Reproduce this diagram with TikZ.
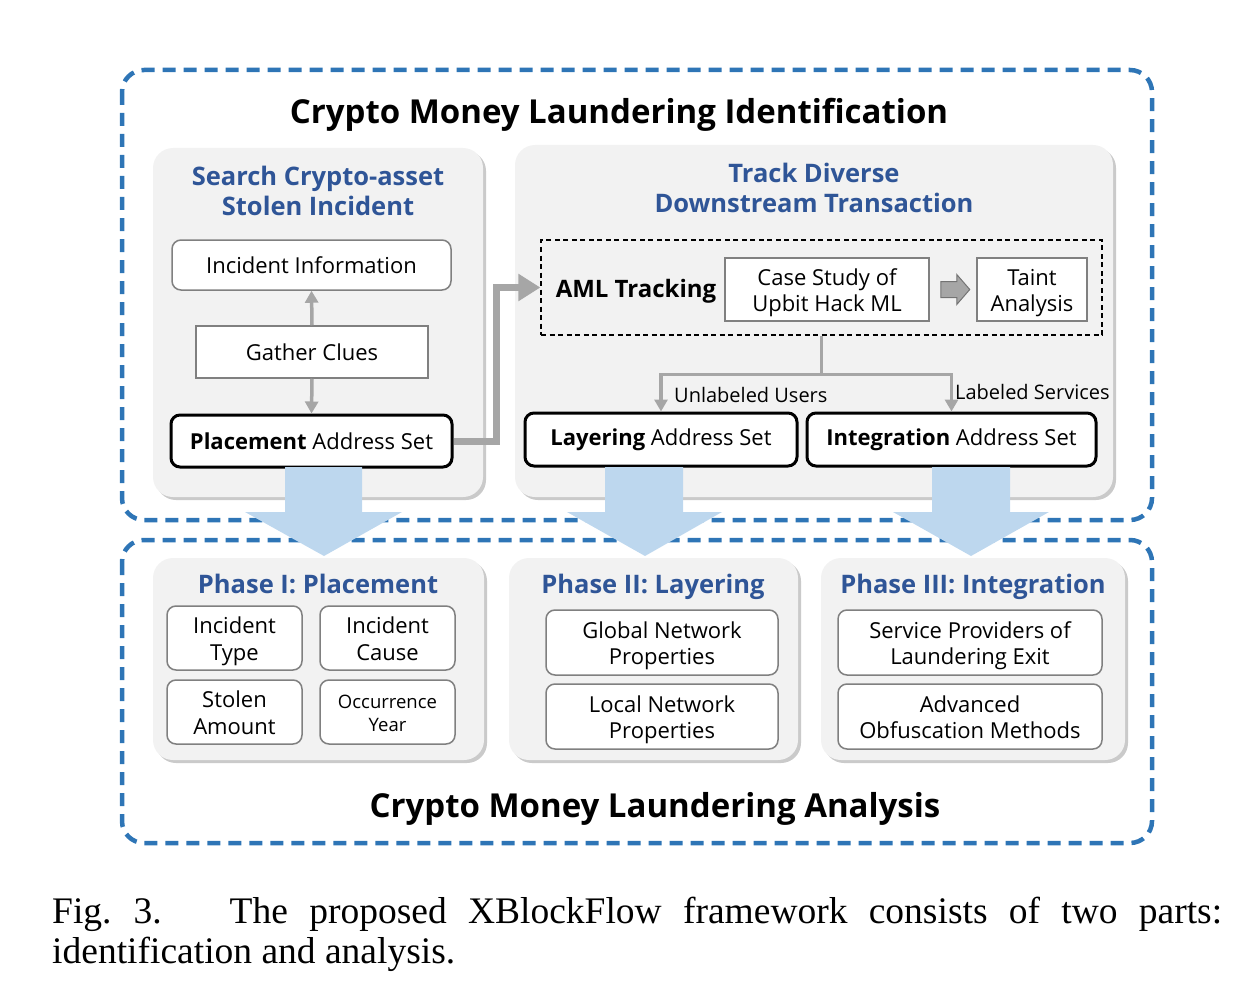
\documentclass[tikz,border=0pt]{standalone}
\usepackage{fontspec}
\setmainfont{Open Sans}
\newfontfamily\capfont{Liberation Serif}
\usetikzlibrary{shadows,calc,arrows.meta}
\definecolor{dashblue}{HTML}{2E75B6}
\definecolor{headblue}{HTML}{2F5597}
\definecolor{lightblue}{HTML}{BDD7EE}
\definecolor{panelgray}{HTML}{F2F2F2}
\definecolor{boxgray}{HTML}{808080}
\definecolor{linegray}{HTML}{A6A6A6}
\newcommand\fl{\rule{0pt}{23.5pt}}
\newcommand\dl{\rule[-6pt]{0pt}{6pt}}
\begin{document}
\begin{tikzpicture}[x=1pt,y=-1pt,
  outerbox/.style={draw=dashblue,line width=4.5pt,dash pattern=on 13pt off 8pt,rounded corners=22pt},
  panel/.style={fill=panelgray,rounded corners=20pt,inner sep=0pt,
    drop shadow={shadow xshift=3pt,shadow yshift=-3pt,opacity=0.35,fill=black!60}},
  bigtitle/.style={font=\fontsize{33}{38}\selectfont\bfseries,inner sep=0pt,anchor=base},
  head/.style={font=\fontsize{25.5}{30}\selectfont\bfseries,text=headblue,align=center,inner sep=0pt},
  txt/.style={font=\fontsize{22}{26.5}\selectfont,align=center},
  rbox/.style={txt,draw=boxgray,line width=1.5pt,rounded corners=9pt,fill=white,inner sep=0pt},
  sbox/.style={txt,draw=boxgray,line width=1.5pt,fill=white,inner sep=0pt},
  kbox/.style={txt,draw=black,line width=3pt,rounded corners=9pt,fill=white,inner sep=0pt},
  garrow/.style={draw=linegray,line width=3.5pt,-{Triangle[width=13pt,length=12pt]}},
  lbl/.style={font=\fontsize{20}{24}\selectfont,inner sep=0pt},
  bluearrow/.style={fill=lightblue}
]
\useasboundingbox (0,0) rectangle (1255,995);

% outer dashed frames
\draw[outerbox] (122,70) rectangle (1152,520);
\draw[outerbox] (122,540) rectangle (1152,843);

% top panels
\node[panel,minimum width=330pt,minimum height=349pt] (pleft) at (318,322.5) {};
\node[panel,minimum width=598pt,minimum height=352pt] (pright) at (814,321) {};

\node[bigtitle] (title1) at (619,124) {Crypto Money Laundering Identification};

\node[head] (hleft) at (318,191) {Search Crypto-asset\\Stolen Incident};
\node[head] (hright) at (814,188) {Track Diverse\\Downstream Transaction};

% left panel boxes
\node[rbox,minimum width=279pt,minimum height=50pt] (info) at (311.5,265) {Incident Information};
\node[sbox,minimum width=232pt,minimum height=52pt] (gather) at (312,352) {Gather Clues};
\node[kbox,minimum width=281pt,minimum height=52pt] (place) at (311.5,441) {\textbf{Placement} Address Set};
\draw[garrow] (gather.north) -- (info.south);
\draw[garrow] (gather.south) -- (place.north);

% AML tracking
\node[draw=black,line width=1.3pt,dash pattern=on 5pt off 3.5pt,minimum width=561pt,minimum height=95pt,inner sep=0pt] (aml) at (821.5,287.5) {};
\node[font=\fontsize{24}{28}\selectfont\bfseries,inner sep=0pt,anchor=base] (amltxt) at (636,297.5) {AML Tracking};
\node[sbox,minimum width=204pt,minimum height=63pt] (case) at (827,289.5) {\fl Case Study of\\\dl Upbit Hack ML};
\node[sbox,minimum width=110pt,minimum height=63pt] (taint) at (1032,289.5) {\fl Taint\\\dl Analysis};
\coordinate (ba) at ($(case.east)+(11,0)$);
\draw[draw=black!55,fill=linegray,line width=1pt]
  (ba) ++(0,-8) -- ++(16,0) -- ++(0,-7) -- ++(13,15) -- ++(-13,15) -- ++(0,-7) -- ++(-16,0) -- cycle;

% thick connector
\draw[draw=linegray,line width=7pt,-{Triangle[width=26pt,length=22pt]}] (place.east) -- ++(43,0) |- (aml.west);

% lower address sets
\node[kbox,minimum width=272pt,minimum height=53pt] (layer) at (661,439.5) {\textbf{Layering} Address Set};
\node[kbox,minimum width=289pt,minimum height=53pt] (integ) at (951.5,439.5) {\textbf{Integration} Address Set};
\draw[draw=linegray,line width=3.5pt] (aml.south) -- ++(0,39) coordinate (split);
\draw[garrow] (split) -| (layer.north);
\draw[garrow] (split) -| (integ.north);
\node[lbl,anchor=base west] (l1) at (674,402) {Unlabeled Users};
\node[lbl,anchor=base west] (l2) at (955,399) {Labeled Services};

% big light blue arrows
\fill[bluearrow] (285,467) -- (362,467) -- (362,512) -- (402,512) -- (324,556) -- (245,512) -- (285,512) -- cycle;
\fill[bluearrow] (605,467) -- (683,467) -- (683,512) -- (722,512) -- (645,556) -- (567,512) -- (605,512) -- cycle;
\fill[bluearrow] (932,467) -- (1010,467) -- (1010,512) -- (1049,512) -- (971,556) -- (893,512) -- (932,512) -- cycle;

% bottom panels
\node[panel,minimum width=331pt,minimum height=202pt] (ph1) at (318.5,659) {};
\node[panel,minimum width=289pt,minimum height=202pt] (ph2) at (653.5,659) {};
\node[panel,minimum width=304pt,minimum height=202pt] (ph3) at (973,659) {};

\node[head,anchor=base] (h1) at (318,593) {Phase I: Placement};
\node[head,anchor=base] (h2) at (653,593) {Phase II: Layering};
\node[head,anchor=base] (h3) at (973,593) {Phase III: Integration};

\node[rbox,minimum width=135pt,minimum height=64pt] (itype) at (234.5,638) {\fl Incident\\\dl Type};
\node[rbox,minimum width=135pt,minimum height=64pt] (icause) at (387.5,638) {\fl Incident\\\dl Cause};
\node[rbox,minimum width=135pt,minimum height=64pt] (samount) at (234.5,712) {\fl Stolen\\\dl Amount};
\node[rbox,minimum width=135pt,minimum height=64pt,font=\fontsize{18.5}{23}\selectfont] (oyear) at (387.5,712) {\rule{0pt}{21pt}Occurrence\\\dl Year};

\node[rbox,minimum width=232pt,minimum height=65pt] (global) at (662,642.5) {\fl Global Network\\\dl Properties};
\node[rbox,minimum width=232pt,minimum height=65pt] (local) at (662,716.5) {\fl Local Network\\\dl Properties};

\node[rbox,minimum width=264pt,minimum height=65pt] (service) at (970,642.5) {\fl Service Providers of\\\dl Laundering Exit};
\node[rbox,minimum width=264pt,minimum height=65pt] (obf) at (970,716.5) {\fl Advanced\\\dl Obfuscation Methods};

\node[bigtitle] (title2) at (655,817) {Crypto Money Laundering Analysis};

% caption
\node[anchor=base west,inner sep=0pt,font=\capfont\fontsize{37.5}{40}\selectfont] (cap1) at (52,923)
  {\makebox[1170pt][s]{Fig.\hspace{22pt}3.\hspace{68pt}The proposed XBlockFlow framework consists of two parts:}};
\node[anchor=base west,inner sep=0pt,font=\capfont\fontsize{37.5}{40}\selectfont] (cap2) at (52,963)
  {identification and analysis.};
\end{tikzpicture}
\end{document}
